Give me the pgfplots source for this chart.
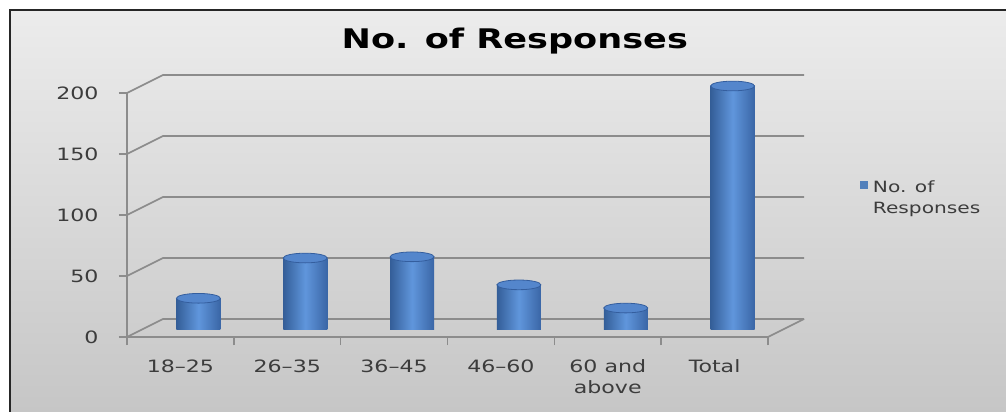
\documentclass[border=0pt]{standalone}
\usepackage{fontspec}
\setmainfont{DejaVu Sans}[FakeStretch=1.3]
\usepackage{pgfplots}
\pgfplotsset{compat=1.18}
\definecolor{bgtop}{RGB}{236,236,236}
\definecolor{bgbot}{RGB}{198,198,198}
\definecolor{gridc}{RGB}{140,140,140}
\definecolor{barL}{RGB}{52,94,152}
\definecolor{barM}{RGB}{96,150,220}
\definecolor{barR}{RGB}{58,102,166}
\definecolor{topF}{RGB}{84,134,204}
\definecolor{topD}{RGB}{52,94,158}
\definecolor{txt}{RGB}{60,60,60}
\pgfplotsset{
  cylbody/.style={forget plot, ybar, bar width=44pt, bar shift=0pt, draw=none,
    left color=barL, right color=barR, middle color=barM, xshift=18pt, yshift=7pt},
}
\begin{document}
\begin{tikzpicture}
\useasboundingbox (0,0) rectangle (1006pt,412pt);
\fill[white] (0,0) rectangle (1006pt,412pt);
\shade[top color=bgtop, bottom color=bgbot] (10pt,0) rectangle (1006pt,402pt);
\draw[line width=2pt, black!85] (10pt,-2pt) -- (10pt,402pt) -- (1008pt,402pt);
\begin{axis}[
  at={(127pt,75pt)}, anchor=south west, scale only axis,
  width=641pt, height=244pt,
  xmin=0, xmax=6, ymin=0, ymax=200, clip=false,
  axis x line*=bottom, axis y line*=left,
  axis line style={gridc, line width=1.6pt},
  tick align=outside, major tick length=8pt,
  tick style={gridc, line width=1.4pt},
  ytick={0,50,...,200},
  yticklabel style={xshift=-17pt},
  xtick={0,1,...,6},
  x tick label as interval,
  xticklabels={18--25,26--35,36--45,46--60,{60 and\\above},Total},
  xticklabel style={align=center, yshift=-11pt},
  ticklabel style={font=\fontsize{17}{21}\selectfont, text=txt},
  /pgf/number format/assume math mode=true,
  title={No. of Responses},
  title style={at={(0.605,1.19)}, anchor=center, font=\fontsize{27}{32}\selectfont\bfseries},
  legend style={at={(1.1425,0.655)}, anchor=north west, draw=none, fill=none,
    font=\fontsize{15.5}{19}\selectfont, text=txt, inner sep=0pt,
    nodes={inner xsep=6pt}},
  legend cell align=left,
]
\pgfplotsinvokeforeach{0,50,100,150,200}{
  \draw[gridc, line width=1.6pt] (axis cs:0,#1) -- ([xshift=36pt,yshift=18pt]axis cs:0,#1) -- ([xshift=36pt,yshift=18pt]axis cs:6,#1);
}
\draw[gridc, line width=1.6pt] (axis cs:6,0) -- ([xshift=36pt,yshift=18pt]axis cs:6,0);
\addplot[cylbody] coordinates {(0.5,26)};
\addplot[cylbody] coordinates {(1.5,59)};
\addplot[cylbody] coordinates {(2.5,60)};
\addplot[cylbody] coordinates {(3.5,37)};
\addplot[cylbody] coordinates {(4.5,18)};
\addplot[cylbody] coordinates {(5.5,200)};
\addplot[forget plot, only marks, mark=*, mark size=22pt,
  mark options={yscale=0.22, draw=topD, line width=0.8pt, fill=topF},
  xshift=18pt, yshift=7pt]
  coordinates {(0.5,26) (1.5,59) (2.5,60) (3.5,37) (4.5,18) (5.5,200)};
\addlegendimage{legend image code/.code={\fill[barM!85!black] (-8pt,-1pt) rectangle (-1pt,6pt);}}
\addlegendentry{\begin{tabular}[t]{@{}l@{}}No. of\\[2pt]Responses\end{tabular}}
\end{axis}
\end{tikzpicture}
\end{document}
